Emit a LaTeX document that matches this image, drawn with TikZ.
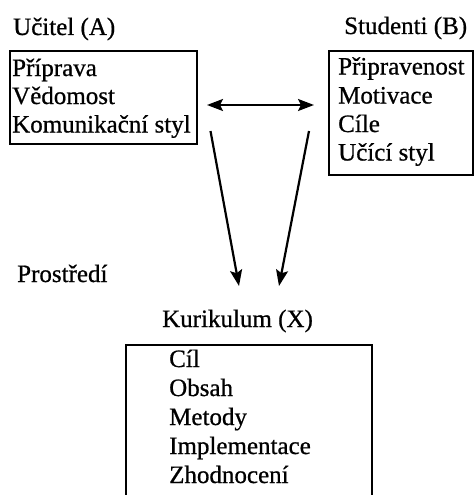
\documentclass[tikz,border=0pt]{standalone}
\usepackage{fontspec}
\setmainfont[FakeBold=0.7,AutoFakeBold=0.7]{Liberation Serif}
\usetikzlibrary{arrows.meta}
\begin{document}
\begin{tikzpicture}[x=1pt,y=-1pt,
  txt/.style={inner sep=0pt, anchor=base west, font=\fontsize{25}{28}\selectfont\bfseries},
  boxnode/.style={draw, line width=2.2pt, inner sep=0pt, anchor=north west},
  arr/.style={line width=2.2pt, -{Stealth[length=16pt,width=12pt,inset=3pt]}},
  dbl/.style={line width=2.2pt, {Stealth[length=16pt,width=12pt,inset=3pt]}-{Stealth[length=16pt,width=12pt,inset=3pt]}}
]
\useasboundingbox (0,0) rectangle (475,495);
\clip (0,0) rectangle (475,495);
% boxes
\node[boxnode, minimum width=187.5pt, minimum height=93pt] (A) at (8.5,50) {};
\node[boxnode, minimum width=144pt, minimum height=124pt] (B) at (328,50) {};
\node[boxnode, minimum width=246pt, minimum height=170pt] (X) at (125,344) {};
% titles
\node[txt] (tA) at (13,35) {Učitel (A)};
\node[txt] (tB) at (344,34) {Studenti (B)};
\node[txt] (tP) at (17,282) {Prostředí};
\node[txt] (tX) at (162,327) {Kurikulum (X)};
% box A lines
\node[txt] (a1) at (12,76) {Příprava};
\node[txt] (a2) at (12,104) {Vědomost};
\node[txt] (a3) at (12,132.5) {Komunikační styl};
% box B lines
\node[txt] (b1) at (338,74.5) {Připravenost};
\node[txt] (b2) at (338,103.5) {Motivace};
\node[txt] (b3) at (338,132) {Cíle};
\node[txt] (b4) at (338,160.5) {Učící styl};
% box X lines
\node[txt] (x1) at (169,367) {Cíl};
\node[txt] (x2) at (169,396) {Obsah};
\node[txt] (x3) at (169,425) {Metody};
\node[txt] (x4) at (169,454) {Implementace};
\node[txt] (x5) at (169,483) {Zhodnocení};
% connector end points
\coordinate (hl) at (207,105);
\coordinate (hr) at (314,105);
\coordinate (sa) at (210.5,131);
\coordinate (ea) at (239,286);
\coordinate (sb) at (309,131);
\coordinate (eb) at (279,286);
\draw[dbl] (hl) -- (hr);
\draw[arr] (sa) -- (ea);
\draw[arr] (sb) -- (eb);
\end{tikzpicture}
\end{document}
